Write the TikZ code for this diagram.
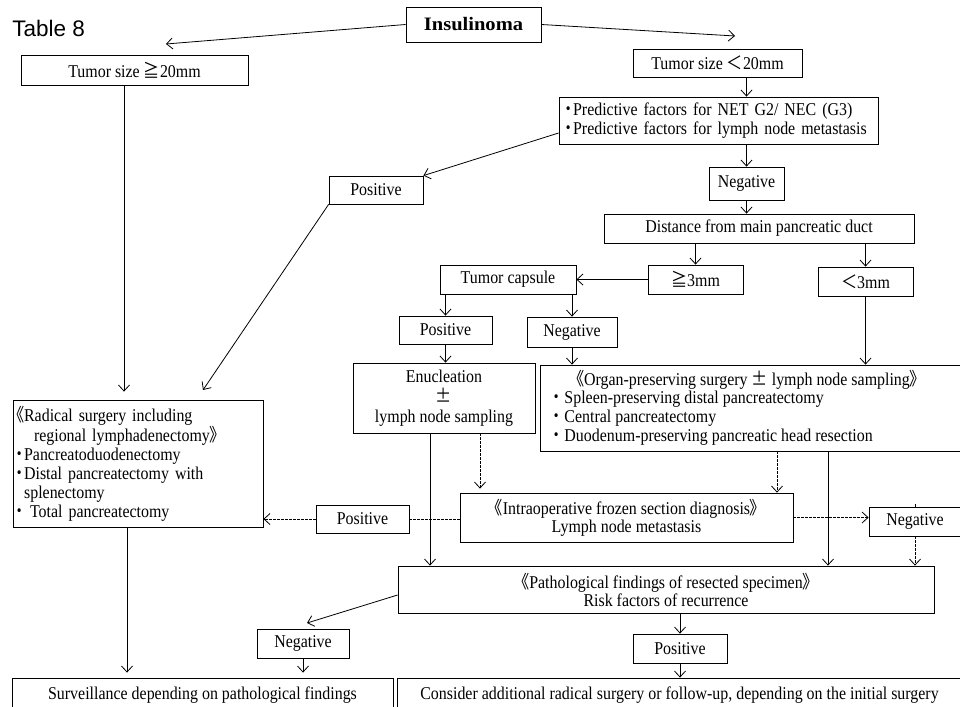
\documentclass[tikz,border=0pt]{standalone}
\usepackage{fontspec}
\setmainfont[FakeStretch=0.885]{Liberation Serif}
\newfontfamily\tabfont{Liberation Sans}
\newfontfamily\insfont[FakeStretch=1.08]{Liberation Serif Bold}
\newfontfamily\cjk[RawFeature=+palt,FakeStretch=0.9]{Noto Sans CJK JP}
\newcommand{\jp}[1]{{\cjk #1}}
\usetikzlibrary{arrows.meta,calc}
\begin{document}
\begin{tikzpicture}[x=1pt,y=-1pt,line width=0.8pt,
  box/.style={draw,inner sep=0pt,font=\fontsize{18}{19}\selectfont,align=center},
  txt/.style={inner sep=0pt,font=\fontsize{18}{19}\selectfont,align=left},
  arr/.style={-{Straight Barb[length=6pt,width=11pt]}},
  dsh/.style={dash pattern=on 2.5pt off 1.5pt}]
\useasboundingbox (0,0) rectangle (960,706);

% title
\node[anchor=base west,inner sep=0pt,font=\tabfont\fontsize{22.5}{24}\selectfont] (tab) at (12,37) {Table 8};

% nodes
\node[box,minimum width=135pt,minimum height=35pt,font=\insfont\fontsize{19}{22}\selectfont] (ins) at (473.5,24.5) {Insulinoma};
\node[box,minimum width=227pt,minimum height=30pt] (tsL) at (134.5,70) {Tumor size \jp{≧}20mm};
\node[box,minimum width=169pt,minimum height=28pt] (tsR) at (717.5,63) {Tumor size \jp{＜}20mm};
\node[box,text width=307pt,inner xsep=6pt,align=left,minimum height=47pt] (pred) at (718.5,120.5)
  {\jp{・}Predictive factors for NET G2/ NEC (G3)\\\jp{・}Predictive factors for lymph node metastasis};
\node[box,minimum width=75pt,minimum height=33pt] (neg1) at (746.5,183.5) {Negative};
\node[box,minimum width=94pt,minimum height=28pt] (posU) at (376,190) {Positive};
\node[box,minimum width=310pt,minimum height=29pt] (dist) at (759,228.5) {Distance from main pancreatic duct};
\node[box,minimum width=95pt,minimum height=29pt] (ge3) at (695.5,279.5) {\jp{≧}3mm};
\node[box,minimum width=95pt,minimum height=29pt] (lt3) at (865.5,281.5) {\jp{＜}3mm};
\node[box,minimum width=136pt,minimum height=29pt] (cap) at (508,279.5) {Tumor capsule};
\node[box,minimum width=93pt,minimum height=28pt] (posM) at (445.5,330) {Positive};
\node[box,minimum width=90pt,minimum height=30pt] (negM) at (572,332) {Negative};
\node[box,minimum width=182pt,minimum height=70pt,font=\fontsize{18}{20}\selectfont] (enu) at (444,398) {Enucleation\\\jp{±}\\lymph node sampling};
\node[box,minimum width=422pt,minimum height=86pt] (org) at (751,408) {};
\node[txt] (orgh) at (747,380) {\jp{《}Organ-preserving surgery \jp{±} lymph node sampling\jp{》}};
\node[txt,anchor=west] (orgl) at (552,418.5)
  {\jp{・} Spleen-preserving distal pancreatectomy\\\jp{・} Central pancreatectomy\\\jp{・} Duodenum-preserving pancreatic head resection};
\node[box,text width=244pt,inner xsep=3pt,align=left,minimum height=127pt] (rad) at (138,463.5)
  {\jp{《}Radical surgery including\\
   \hspace*{18pt}regional lymphadenectomy\jp{》}\\
   \jp{・}Pancreatoduodenectomy\\
   \jp{・}Distal pancreatectomy with\\
   \phantom{\jp{・}}splenectomy\\
   \jp{・} Total pancreatectomy};
\node[box,minimum width=333pt,minimum height=49pt,font=\fontsize{18}{18}\selectfont] (intra) at (626.5,517.5)
  {\jp{《}Intraoperative frozen section diagnosis\jp{》}\\Lymph node metastasis};
\node[box,minimum width=93pt,minimum height=28pt] (posD) at (362.5,519) {Positive};
\node[box,minimum width=92pt,minimum height=29pt] (negR) at (915,521.5) {Negative};
\node[box,minimum width=536pt,minimum height=47pt,font=\fontsize{18}{18}\selectfont] (path) at (666,589.5)
  {\jp{《}Pathological findings of resected specimen\jp{》}\\Risk factors of recurrence};
\node[box,minimum width=92pt,minimum height=29pt] (negL) at (303,643.5) {Negative};
\node[box,minimum width=94pt,minimum height=29pt] (posL) at (680,648.5) {Positive};
\node[box,minimum width=381pt,minimum height=34pt] (surv) at (202.5,695) {Surveillance depending on pathological findings};
\node[box,minimum width=565pt,minimum height=34pt] (cons) at (679.5,695) {Consider additional radical surgery or follow-up, depending on the initial surgery};

% helper coordinates
\coordinate (aL) at (166,44);
\coordinate (aR) at (735,36);
\coordinate (aRad) at (203,390);
\coordinate (aNL) at (307,623);
\path (tsL.south) ++(-10.5,0) coordinate (t1);
\path (enu.south) ++(-14,0) coordinate (e1);
\path (enu.south) ++(36,0) coordinate (e2);
\path (org.south) ++(26,0) coordinate (o1);
\path (org.south) ++(77,0) coordinate (o2);
\path (path.west) ++(0,5.5) coordinate (p1);
\path (rad.south) ++(-11,0) coordinate (r1);
\path (pred.west) ++(0,12.5) coordinate (pw);
\path (negR.north) ++(0,-3) coordinate (tick);

% connectors
\draw[arr] (ins.west) -- (aL);
\draw[arr] (ins.east) -- (aR);
\draw[arr] (tsR.south -| neg1) -- (pred.north -| neg1);
\draw[arr] (pred.south -| neg1) -- (neg1.north);
\draw[arr] (pw) -- (posU.north east);
\draw[arr] (posU.south west) -- (aRad);
\draw[arr,shorten >=8pt] (t1) -- (t1 |- rad.north);
\draw[arr] (neg1.south) -- (neg1.south |- dist.north);
\draw[arr] (dist.south -| ge3) -- (ge3.north);
\draw[arr] (dist.south -| lt3) -- (lt3.north);
\draw[arr] (ge3.west) -- (ge3.west -| cap.east);
\draw[arr] (cap.south -| posM) -- (posM.north);
\draw[arr] (cap.south -| negM) -- (negM.north);
\draw[arr] (posM.south) -- (posM.south |- enu.north);
\draw[arr] (negM.south) -- (negM.south |- org.north);
\draw[arr] (lt3.south) -- (lt3.south |- org.north);
\draw[arr] (e1) -- (e1 |- path.north);
\draw[arr,dsh,shorten >=4pt] (e2) -- (e2 |- intra.north);
\draw[arr,dsh] (o1) -- (o1 |- intra.north);
\draw[arr] (o2) -- (o2 |- path.north);
\draw[dsh] (posD.east -| intra.west) -- (posD.east);
\draw[arr,dsh] (posD.west) -- (posD.west -| rad.east);
\draw[arr,dsh] (intra.east) -- (intra.east -| negR.west);
\draw[arr,dsh] (negR.south) -- (negR.south |- path.north);
\draw (negR.north) -- (tick);
\draw[arr] (p1) -- (aNL);
\draw[arr,shorten >=5pt] (negL.south) -- (negL.south |- surv.north);
\draw[arr,shorten >=5pt] (r1) -- (r1 |- surv.north);
\draw[arr] (path.south -| posL) -- (posL.north);
\draw[arr] (posL.south) -- (posL.south |- cons.north);
\end{tikzpicture}
\end{document}
